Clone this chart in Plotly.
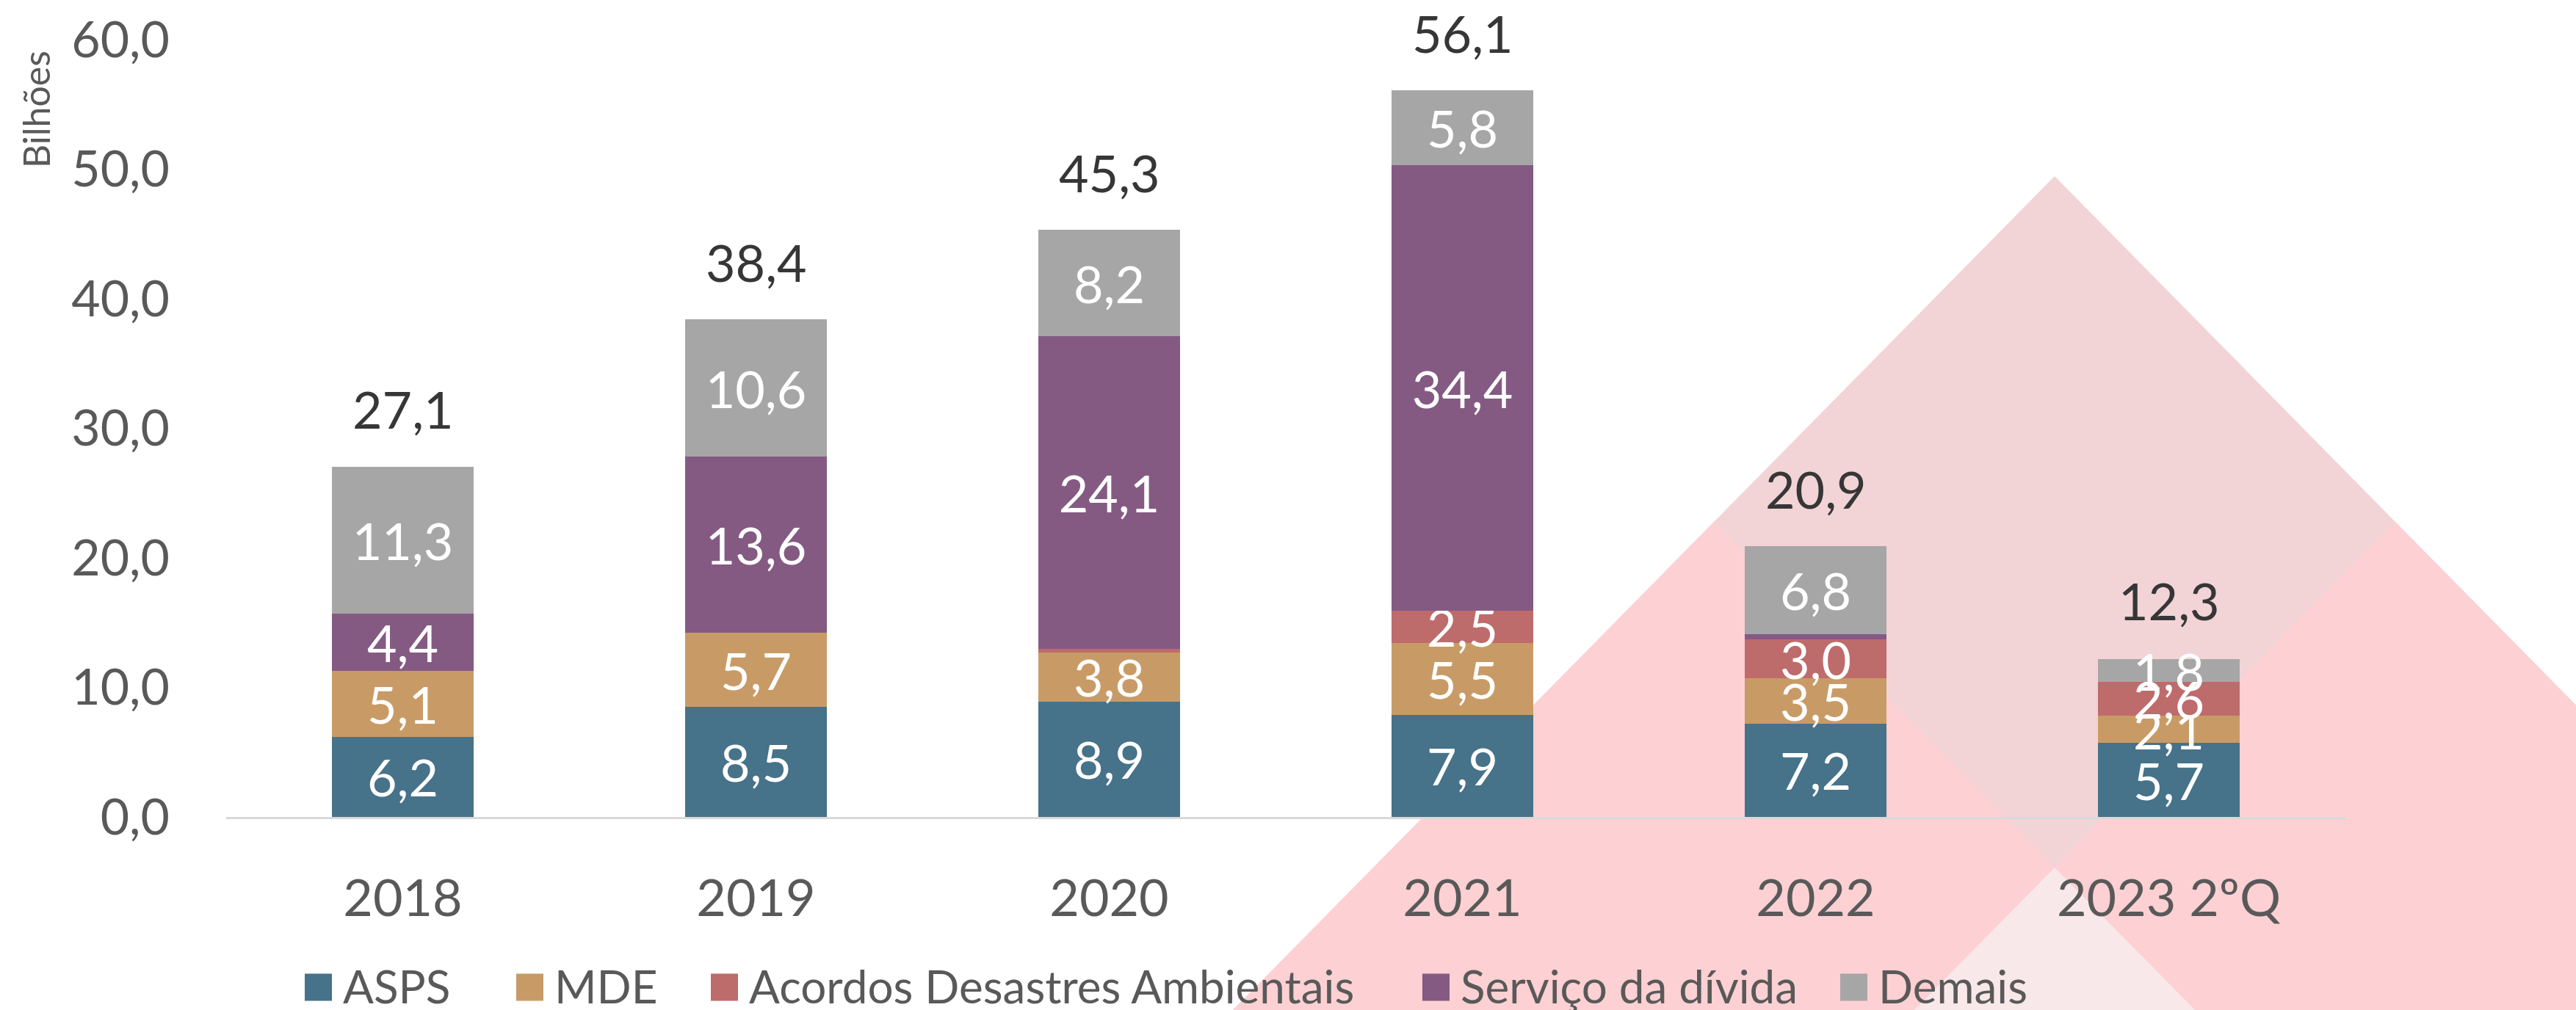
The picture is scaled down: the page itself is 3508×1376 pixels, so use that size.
import plotly.graph_objects as go

# ---------------- data ----------------
categories = ["2018", "2019", "2020", "2021", "2022", "2023 2ºQ"]
series_names = ["ASPS", "MDE", "Acordos Desastres Ambientais", "Serviço da dívida", "Demais"]
asps = [6.2, 8.5, 8.9, 7.9, 7.2, 5.7]
mde = [5.1, 5.7, 3.8, 5.5, 3.5, 2.1]
acordos = [0.0, 0.0, 0.3, 2.5, 3.0, 2.6]
servico = [4.4, 13.6, 24.1, 34.4, 0.4, 0.0]
demais = [11.3, 10.6, 8.2, 5.8, 6.8, 1.8]
totals = [27.1, 38.4, 45.3, 56.1, 20.9, 12.3]
y_ticks = [0, 10, 20, 30, 40, 50, 60]

# ---------------- styles ----------------
colors = ["#46728a", "#c89b66", "#be6b6c", "#845a83", "#a6a6a6"]
FONT = "Lato"
W, H = 3508, 1376
L, R, T, B = 308, 314, 54, 263
PW, PH = W - L - R, H - T - B
Y0 = T + PH


def px(x):
    return (x - L) / PW


def py(y):
    return (Y0 - y) / PH


def fmt(v):
    return f"{v:.1f}".replace(".", ",")


fig = go.Figure()
all_series = [asps, mde, acordos, servico, demais]
for name, vals, col in zip(series_names, all_series, colors):
    fig.add_trace(go.Bar(
        name=name, x=categories, y=vals,
        marker=dict(color=col, line=dict(width=0)),
        text=[fmt(v) if v >= 1 else "" for v in vals],
        textposition="inside", insidetextanchor="middle", textangle=0,
        textfont=dict(family=FONT, size=70, color="white"),
        showlegend=False, hoverinfo="x+y+name",
    ))

annotations = []
for i, t in enumerate(totals):
    annotations.append(dict(
        x=i, y=t, xref="x", yref="y", text=fmt(t), showarrow=False,
        yanchor="bottom", yshift=34,
        font=dict(family=FONT, size=70, color="#363636"),
    ))

# axis title
annotations.append(dict(
    x=px(49), y=py(149), xref="paper", yref="paper", text="Bilhões",
    textangle=-90, showarrow=False, xanchor="center", yanchor="middle",
    font=dict(family=FONT, size=50, color="#595959"),
))

# ---------------- background triangles ----------------
def tri(p1, p2, p3, color):
    path = "M {},{} L {},{} L {},{} Z".format(
        px(p1[0]), py(p1[1]), px(p2[0]), py(p2[1]), px(p3[0]), py(p3[1]))
    return dict(type="path", path=path, xref="paper", yref="paper",
                fillcolor=color, line=dict(width=0), layer="below")


k = 0.985
apex = (2798, 240)
yb = 1420
mid_y = 711
shapes = []
shapes.append(tri(apex, (apex[0] - (yb - apex[1]) * k, yb), (apex[0] + (yb - apex[1]) * k, yb), "#f2d3d6"))
lx = apex[0] - (mid_y - apex[1]) * k
rx = apex[0] + (mid_y - apex[1]) * k
shapes.append(tri((lx, mid_y), (lx - (yb - mid_y) * k, yb), (lx + (yb - mid_y) * k, yb), "#fdd0d3"))
shapes.append(tri((rx, mid_y), (rx - (yb - mid_y) * k, yb), (rx + (yb - mid_y) * k, yb), "#fdd0d3"))
cy = mid_y + (rx - lx) / 2 / k
shapes.append(tri((apex[0], cy), (apex[0] - (yb - cy) * k, yb), (apex[0] + (yb - cy) * k, yb), "#f9e8ea"))

# ---------------- manual legend ----------------
legend_left = [415, 703, 968, 1937, 2506]
sq = 37
leg_cy = 1343
for name, col, lx0 in zip(series_names, colors, legend_left):
    shapes.append(dict(type="rect", xref="paper", yref="paper",
                       x0=px(lx0), x1=px(lx0 + sq), y0=py(leg_cy + sq / 2 + 2), y1=py(leg_cy - sq / 2 + 2),
                       fillcolor=col, line=dict(width=0), layer="above"))
    annotations.append(dict(
        x=px(lx0 + sq + 14), y=py(leg_cy), xref="paper", yref="paper", text=name,
        showarrow=False, xanchor="left", yanchor="middle", borderpad=0,
        font=dict(family=FONT, size=62, color="#595959"),
    ))

fig.update_layout(
    width=W, height=H,
    margin=dict(l=L, r=R, t=T, b=B, pad=0),
    barmode="stack", bargap=0.6,
    paper_bgcolor="white", plot_bgcolor="rgba(0,0,0,0)",
    separators=",.",
    font=dict(family=FONT, color="#595959"),
    uniformtext=dict(minsize=70, mode="show"),
    annotations=annotations, shapes=shapes,
    showlegend=False,
    xaxis=dict(
        type="category", range=[-0.5, 5.5], showgrid=False, zeroline=False,
        showline=True, linecolor="#d9d9d9", linewidth=3, ticks="",
        tickfont=dict(family=FONT, size=70, color="#595959"),
        ticklabelstandoff=48,
    ),
    yaxis=dict(
        range=[0, 60], tickvals=y_ticks, tickformat=".1f", showgrid=False,
        zeroline=False, showline=False, ticks="",
        tickfont=dict(family=FONT, size=68, color="#595959"),
        ticklabelstandoff=76,
    ),
)

fig.write_html(
    "out.html",
    config={"displayModeBar": False},
    post_script="document.body.style.margin='0px';document.body.style.overflow='hidden';",
)
